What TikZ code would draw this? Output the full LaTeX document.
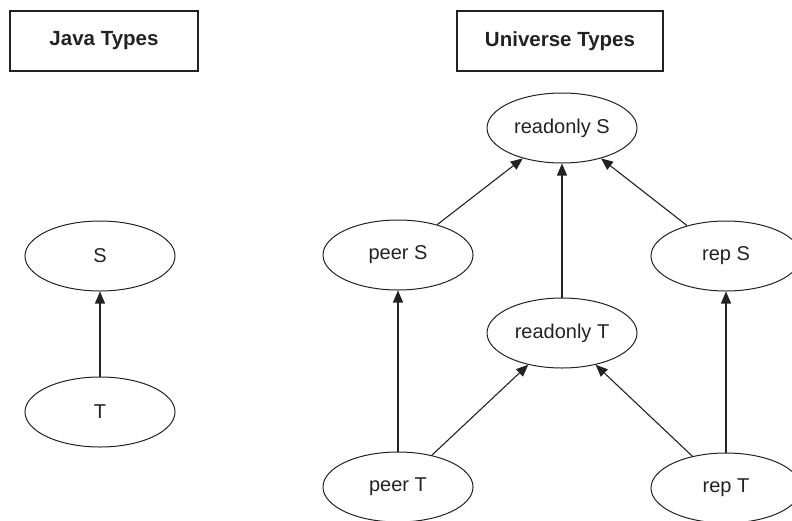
\documentclass[tikz,border=0pt]{standalone}
\usepackage{fontspec}
\setmainfont{Liberation Sans}
\usetikzlibrary{shapes.geometric,arrows.meta}
\definecolor{inkgray}{HTML}{222222}
\tikzset{
  typenode/.style={ellipse, draw=inkgray, line width=1pt, minimum width=150pt, minimum height=70pt,
    inner sep=0pt, text=inkgray, font=\fontsize{20}{22}\selectfont},
  titlebox/.style={rectangle, draw=inkgray, line width=1.3pt, minimum height=60pt, inner sep=0pt,
    text=inkgray, font=\bfseries\fontsize{20.5}{23}\selectfont},
  subtype/.style={draw=inkgray, line width=1.1pt, -{Triangle[length=12pt,width=10pt]}}
}
\begin{document}
\begin{tikzpicture}[x=1pt,y=-1pt]
  \useasboundingbox (0,0) rectangle (792,520);
  \clip (0,0) rectangle (792,520);
  % headings
  \node[titlebox, minimum width=188pt] (java) at (104,41) {Java Types};
  \node[titlebox, minimum width=206pt] (univ) at (560,41) {Universe Types};
  % Java type hierarchy
  \node[typenode] (S) at (100,256) {S};
  \node[typenode] (T) at (100,412) {T};
  \draw[subtype] (T) -- (S);
  % Universe type hierarchy
  \node[typenode] (roS) at (562,128) {readonly S};
  \node[typenode] (peerS) at (398,255) {peer S};
  \node[typenode] (repS) at (726,256) {rep S};
  \node[typenode] (roT) at (562,333) {readonly T};
  \node[typenode] (peerT) at (398,487) {peer T};
  \node[typenode] (repT) at (726,488) {rep T};
  \draw[subtype] (peerS) -- (roS);
  \draw[subtype] (roT) -- (roS);
  \draw[subtype] (repS) -- (roS);
  \draw[subtype] (peerT) -- (peerS);
  \draw[subtype] (peerT) -- (roT);
  \draw[subtype] (repT) -- (roT);
  \draw[subtype] (repT) -- (repS);
\end{tikzpicture}
\end{document}
